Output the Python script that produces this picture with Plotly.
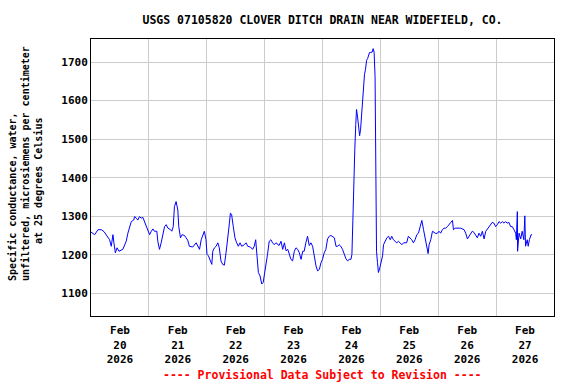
import pandas as pd
import plotly.graph_objects as go

# Hours after 2026-02-20 00:00 and specific conductance values (uS/cm)
hours = [0, 1.5, 2.9, 4.3, 5.4, 6.3, 7.7, 8.4, 9.1, 9.5, 10.1, 10.8, 11.6, 13.2, 14.6, 15.3,
         16.0, 16.7, 17.7, 18.1, 18.8, 19.4, 20.1, 20.8, 21.5, 22.2, 22.9, 23.6, 24.3, 25.0,
         25.7, 26.3, 27.3, 27.7, 28.4, 29.1, 29.8, 30.5, 31.2, 31.9, 33.0, 33.5, 34.1, 34.6,
         35.3, 36.0, 36.4, 37.1, 37.8, 38.8, 39.4, 40.1, 40.8, 42.2, 43.6, 44.3, 45.0, 45.7,
         46.3, 47.0, 47.7, 48.1, 48.7, 49.5, 50.1, 50.5, 51.2, 51.9, 52.6, 53.2, 53.9, 54.6,
         55.3, 56.0, 56.7, 57.4, 57.8, 58.3, 59.0, 59.7, 60.4, 61.1, 61.8, 62.5, 63.6, 64.3,
         65.0, 66.1, 67.0, 67.7, 68.3, 68.8, 69.4, 70.1, 70.8, 71.4, 72.0, 72.7, 73.2, 73.9,
         74.6, 75.3, 76.0, 76.7, 77.4, 78.0, 78.8, 79.5, 80.2, 80.9, 81.6, 82.2, 82.9, 83.6,
         84.3, 85.0, 85.7, 86.4, 87.1, 87.8, 88.4, 89.1, 89.8, 90.5, 91.2, 91.9, 92.6, 93.3,
         94.0, 94.7, 95.4, 96.0, 96.7, 97.4, 98.1, 98.8, 99.5, 100.2, 100.9, 101.6, 102.3,
         102.9, 103.6, 104.3, 105.0, 105.7, 106.4, 107.1, 107.8, 108.2, 108.6, 109.0, 109.4,
         109.8, 110.1, 110.5, 110.9, 111.4, 111.8, 112.2, 112.6, 113.0, 113.4, 113.8, 114.3,
         114.7, 115.1, 115.5, 116.0, 116.6, 117.0, 117.4, 117.8, 118.1, 118.4, 118.8, 119.2,
         119.8, 120.3, 120.9, 121.3, 122.0, 122.7, 123.4, 124.1, 124.7, 125.4, 126.1, 126.8,
         127.5, 128.2, 128.9, 129.6, 130.9, 131.6, 132.3, 133.0, 133.7, 134.4, 135.1, 135.8,
         136.5, 137.2, 137.9, 138.5, 139.2, 139.8, 140.2, 140.9, 141.6, 142.3, 143.0, 143.7,
         144.3, 145.0, 145.7, 146.4, 147.1, 147.8, 148.5, 149.2, 149.9, 150.3, 151.0, 151.9,
         153.3, 154.7, 155.4, 156.1, 156.8, 157.4, 158.1, 158.8, 159.5, 160.2, 160.9, 161.6,
         162.3, 163.0, 163.7, 164.4, 165.0, 165.7, 166.4, 167.1, 167.8, 168.5, 169.2, 169.9,
         170.6, 171.3, 171.9, 172.6, 173.3, 174.0, 174.7, 175.4, 176.1, 176.4, 176.8, 176.9,
         177.5, 178.2, 178.8, 179.5, 179.9, 180.2, 180.9, 181.3, 181.8, 182.5, 182.9]

values = [1259, 1252, 1265, 1265, 1260, 1252, 1239, 1222, 1252, 1231, 1205, 1218, 1209, 1214, 1235, 1256,
          1270, 1286, 1290, 1299, 1295, 1290, 1299, 1295, 1297, 1286, 1270, 1261, 1252, 1261,
          1267, 1261, 1261, 1235, 1214, 1231, 1256, 1273, 1278, 1269, 1265, 1261, 1273, 1325,
          1338, 1316, 1273, 1244, 1252, 1250, 1244, 1238, 1222, 1220, 1231, 1222, 1214, 1239,
          1252, 1261, 1239, 1201, 1197, 1184, 1175, 1209, 1218, 1222, 1231, 1218, 1184, 1175,
          1173, 1205, 1239, 1282, 1308, 1305, 1273, 1244, 1231, 1222, 1231, 1222, 1226, 1231,
          1222, 1220, 1214, 1222, 1239, 1188, 1154, 1145, 1124, 1128, 1150, 1180, 1201, 1235,
          1239, 1231, 1226, 1231, 1226, 1224, 1235, 1214, 1231, 1210, 1214, 1200, 1188, 1184,
          1209, 1218, 1214, 1205, 1188, 1209, 1209, 1231, 1248, 1224, 1231, 1222, 1192, 1171,
          1158, 1162, 1180, 1188, 1205, 1214, 1241, 1248, 1250, 1248, 1244, 1222, 1222,
          1226, 1222, 1214, 1201, 1190, 1184, 1188, 1188, 1201, 1290, 1415, 1474,
          1538, 1577, 1560, 1530, 1509, 1526, 1568, 1611, 1641, 1667, 1680, 1705,
          1709, 1718, 1725, 1725, 1726, 1735, 1726, 1662, 1487, 1209, 1180, 1154,
          1167, 1180, 1197, 1226, 1235, 1244, 1248, 1239, 1248, 1239, 1235, 1231,
          1235, 1231, 1226, 1231, 1231, 1248, 1244, 1239, 1231, 1239, 1252, 1256,
          1273, 1289, 1265, 1248, 1226, 1203, 1226, 1239, 1261, 1258, 1255, 1256,
          1261, 1256, 1265, 1269, 1269, 1273, 1280, 1284, 1289, 1265, 1269, 1269,
          1269, 1265, 1256, 1241, 1248, 1256, 1261, 1258, 1252, 1244, 1256, 1248,
          1261, 1241, 1261, 1267, 1273, 1278, 1284, 1282, 1273, 1278, 1286, 1282,
          1286, 1282, 1286, 1282, 1284, 1273, 1273, 1265, 1256, 1239, 1312, 1209,
          1256, 1241, 1261, 1239, 1301, 1222, 1239, 1222, 1239, 1252, 1252]

start = pd.Timestamp("2026-02-20 00:00")
times = start + pd.to_timedelta(hours, unit="h")

day_labels = ["Feb<br>20<br>2026", "Feb<br>21<br>2026", "Feb<br>22<br>2026", "Feb<br>23<br>2026",
              "Feb<br>24<br>2026", "Feb<br>25<br>2026", "Feb<br>26<br>2026", "Feb<br>27<br>2026"]
label_pos = [start + pd.Timedelta(days=i, hours=12) for i in range(len(day_labels))]
grid_pos = [start + pd.Timedelta(days=i) for i in range(1, 8)]

title_text = "USGS 07105820 CLOVER DITCH DRAIN NEAR WIDEFIELD, CO."
ytitle_lines = ["Specific conductance, water,",
                "unfiltered, microsiemens per centimeter",
                "at 25 degrees Celsius"]

FONT = "DejaVu Sans Mono"

fig = go.Figure()
fig.add_trace(go.Scatter(x=times, y=values, mode="lines",
                         line=dict(color="#0000ff", width=1), showlegend=False,
                         hoverinfo="skip"))

W, H = 576, 384
L, R, T, B = 91, 22, 39, 68
pw, ph = W - L - R, H - T - B

fig.update_layout(
    width=W, height=H,
    margin=dict(l=L, r=R, t=T, b=B, autoexpand=False),
    paper_bgcolor="white", plot_bgcolor="white",
    font=dict(family=FONT, size=11, color="black", weight="bold"),
    title=dict(text=title_text, x=0.5, xref="paper", xanchor="center",
               y=1 - 20 / H, yref="container", yanchor="middle",
               font=dict(family=FONT, size=11.5, color="black", weight="bold")),
    xaxis=dict(
        range=[start, start + pd.Timedelta(days=8)],
        tickmode="array", tickvals=label_pos, ticktext=day_labels,
        showgrid=False, ticks="", ticklabelstandoff=4,
        tickfont=dict(family=FONT, size=11, weight="bold"),
        showline=True, mirror=True, linecolor="black", linewidth=1,
        zeroline=False,
        minor=dict(tickmode="array", tickvals=grid_pos, showgrid=True,
                   gridcolor="#cccccc", gridwidth=1, ticks=""),
    ),
    yaxis=dict(
        range=[1041, 1760], tick0=1100, dtick=100,
        showgrid=True, gridcolor="#cccccc", gridwidth=1,
        ticks="", tickfont=dict(family=FONT, size=11, weight="bold"),
        showline=True, mirror=True, linecolor="black", linewidth=1,
        zeroline=False,
    ),
)

# Y-axis title lines (rotated)
ypos = [(12, 197), (25, 164), (38, 181)]
for txt, (px, py) in zip(ytitle_lines, ypos):
    fig.add_annotation(text=txt, xref="paper", yref="paper",
                       x=(px - L) / pw, y=(H - B - py) / ph,
                       xanchor="center", yanchor="middle", textangle=-90,
                       showarrow=False,
                       font=dict(family=FONT, size=10, color="black", weight="bold"))

fig.add_annotation(text="---- Provisional Data Subject to Revision ----",
                   xref="paper", yref="paper", x=0.5, y=(H - B - 375) / ph,
                   xanchor="center", yanchor="middle", showarrow=False,
                   font=dict(family=FONT, size=11.5, color="red", weight="bold"))

fig.write_html("out.html", config={"displayModeBar": False},
               post_script="document.body.style.margin='0';document.body.style.overflow='hidden';")
